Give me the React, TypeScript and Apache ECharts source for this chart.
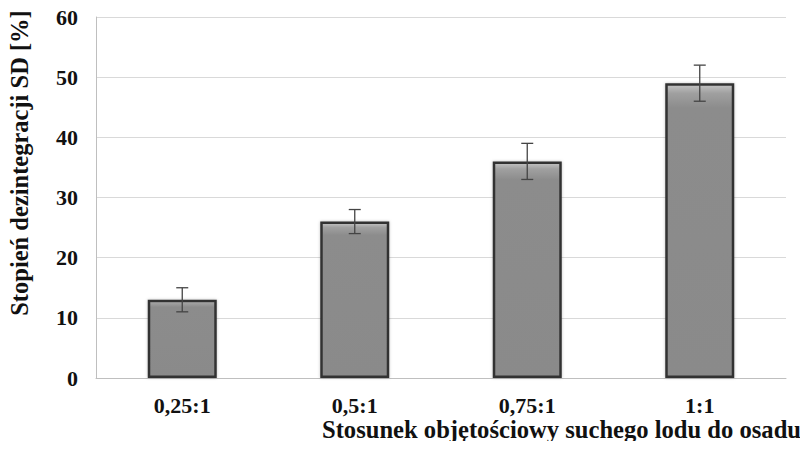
import React, { useEffect, useRef } from "react";
import * as echarts from "echarts";

const categories = ["0,25:1", "0,5:1", "0,75:1", "1:1"];
const values = [13, 26, 36, 49];
const errors = [2, 2, 3, 3];
const yTicks = [0, 10, 20, 30, 40, 50, 60];

const FONT = "'Liberation Serif', 'Times New Roman', serif";

export default function App() {
  const ref = useRef<HTMLDivElement>(null);

  useEffect(() => {
    if (!ref.current) return;
    const chart = echarts.init(ref.current, null, { renderer: "svg" });

    const errorData = values.map((v, i) => [i, v - errors[i], v + errors[i]]);

    chart.setOption({
      animation: false,
      grid: { left: 96, top: 17, right: 22, bottom: 71 },
      xAxis: {
        type: "category",
        data: categories,
        axisLine: { show: true, lineStyle: { color: "#bfbfbf", width: 1 } },
        axisTick: { show: false },
        axisLabel: {
          margin: 16,
          fontFamily: FONT,
          fontWeight: "bold",
          fontSize: 22,
          color: "#111",
        },
      },
      yAxis: {
        type: "value",
        min: yTicks[0],
        max: yTicks[yTicks.length - 1],
        interval: 10,
        axisLine: { show: true, lineStyle: { color: "#bfbfbf", width: 1 } },
        axisTick: { show: false },
        splitLine: { lineStyle: { color: "#d9d9d9", width: 1 } },
        axisLabel: {
          margin: 18,
          fontFamily: FONT,
          fontWeight: "bold",
          fontSize: 22,
          color: "#111",
        },
      },
      graphic: [
        {
          type: "text",
          x: 19,
          y: 163,
          rotation: Math.PI / 2,
          style: {
            text: "Stopień dezintegracji SD [%]",
            fontFamily: FONT,
            fontWeight: "bold",
            fontSize: 24.5,
            fill: "#111",
            align: "center",
            verticalAlign: "middle",
          },
        },
        {
          type: "text",
          x: 322,
          y: 429,
          style: {
            text: "Stosunek objętościowy suchego lodu do osadu",
            fontFamily: FONT,
            fontWeight: "bold",
            fontSize: 24.6,
            fill: "#111",
            align: "left",
            verticalAlign: "middle",
          },
        },
      ],
      series: [
        {
          type: "bar",
          data: values,
          barWidth: "40%",
          itemStyle: {
            color: new echarts.graphic.LinearGradient(0, 0, 0, 1, [
              { offset: 0, color: "#c4c4c4" },
              { offset: 0.03, color: "#a0a0a0" },
              { offset: 0.08, color: "#8c8c8c" },
              { offset: 1, color: "#8a8a8a" },
            ]),
            borderColor: "#333",
            borderWidth: 2.5,
            shadowColor: "rgba(0,0,0,0.25)",
            shadowBlur: 3,
          },
          z: 2,
        },
        {
          type: "custom",
          data: errorData,
          z: 5,
          renderItem: (params: any, api: any) => {
            const x = api.coord([api.value(0), 0])[0];
            const lo = api.coord([api.value(0), api.value(1)])[1];
            const hi = api.coord([api.value(0), api.value(2)])[1];
            const cap = 6;
            const style = { stroke: "#444", lineWidth: 1.3 };
            return {
              type: "group",
              children: [
                { type: "line", shape: { x1: x, y1: lo, x2: x, y2: hi }, style },
                { type: "line", shape: { x1: x - cap, y1: hi, x2: x + cap, y2: hi }, style },
                { type: "line", shape: { x1: x - cap, y1: lo, x2: x + cap, y2: lo }, style },
              ],
            };
          },
        },
      ],
    });

    return () => chart.dispose();
  }, []);

  return <div ref={ref} style={{ width: 808, height: 449, margin: -8 }} />;
}
